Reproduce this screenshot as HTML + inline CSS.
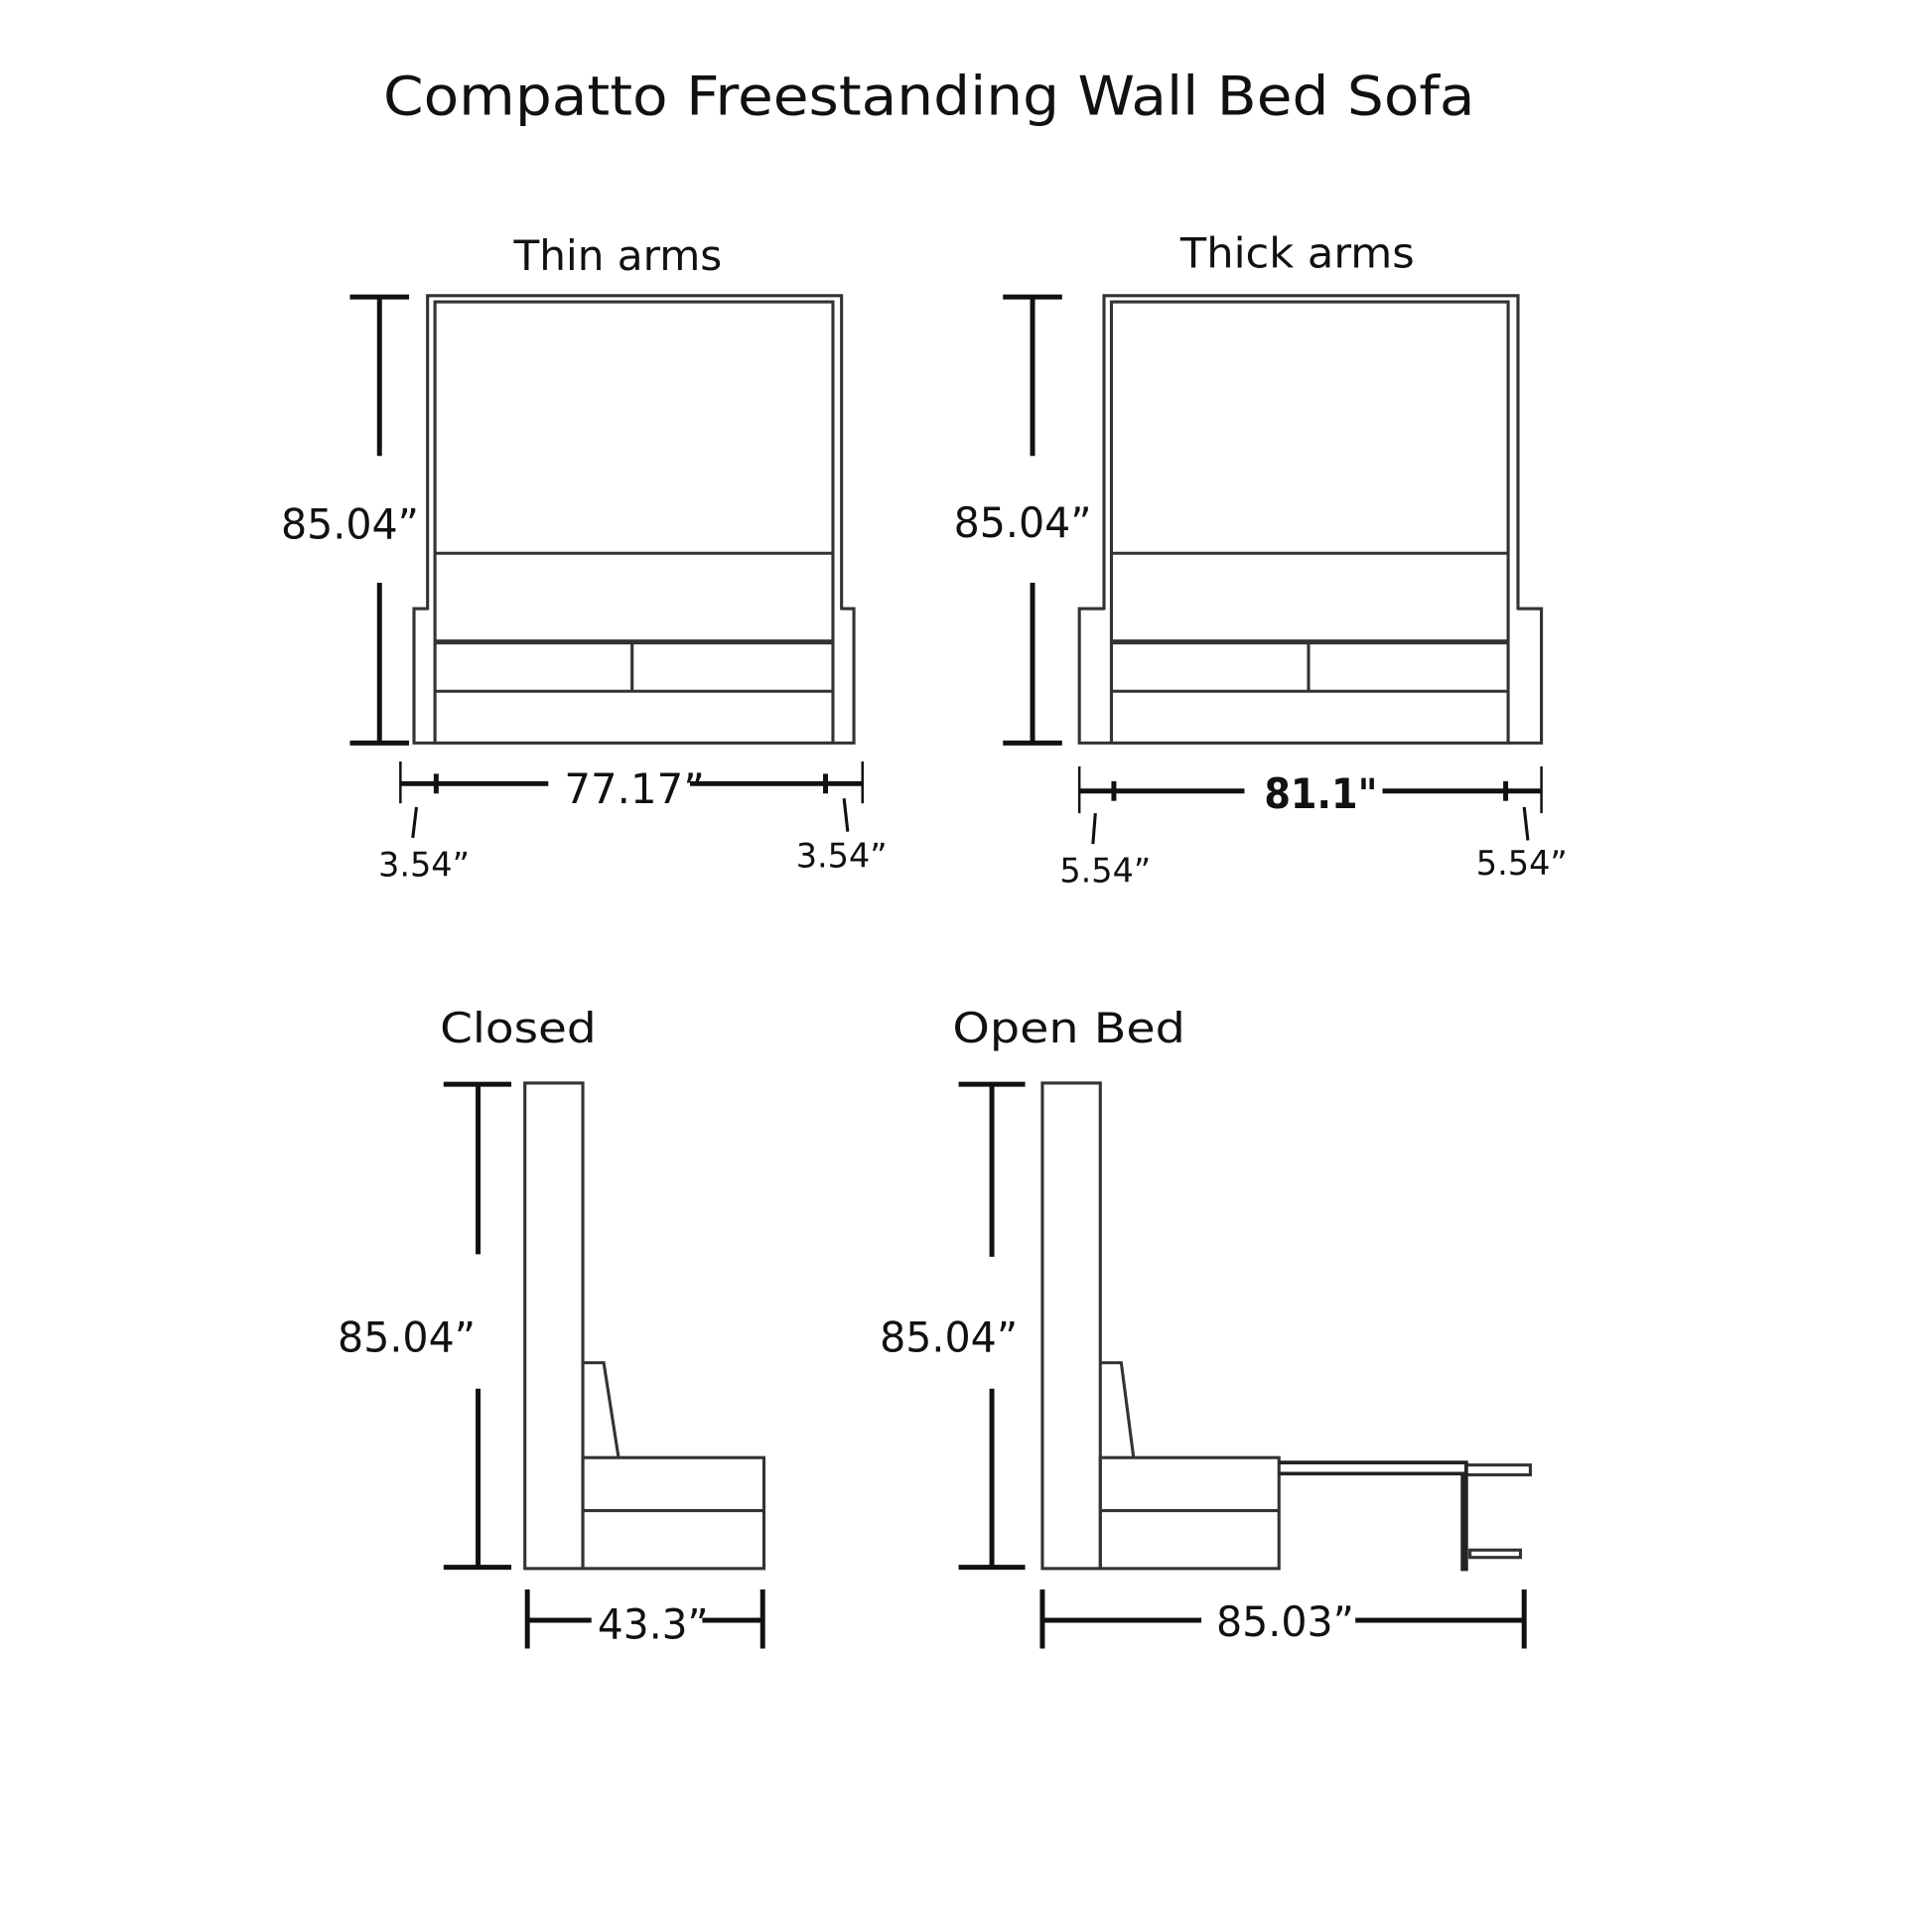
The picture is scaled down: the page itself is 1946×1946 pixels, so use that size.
<!DOCTYPE html>
<html><head><style>
html,body{margin:0;padding:0;background:#fff;}
svg{display:block;}
text{font-family:"DejaVu Sans","Liberation Sans",sans-serif;fill:#111;}
</style></head><body>
<svg width="1946" height="1946" viewBox="0 0 1568 1568" xmlns="http://www.w3.org/2000/svg">
<rect width="1568" height="1568" fill="#fff"/>
<text x="754" y="93" font-size="44" text-anchor="middle" textLength="886" lengthAdjust="spacingAndGlyphs">Compatto Freestanding Wall Bed Sofa</text>

<g fill="none" stroke="#333" stroke-width="2.5">
<path d="M347 495 V240 H683 V495"/>
<rect x="353" y="245" width="323" height="358"/>
<line x1="353" y1="449" x2="676" y2="449"/>
<line x1="353" y1="521" x2="676" y2="521" stroke-width="4"/>
<line x1="513" y1="521" x2="513" y2="561"/>
<line x1="353" y1="561" x2="676" y2="561"/>
<path d="M347 494 H336 V603 H353"/>
<path d="M683 494 H693 V603 H676"/>
<path d="M896 495 V240 H1232 V495"/>
<rect x="902" y="245" width="322" height="358"/>
<line x1="902" y1="449" x2="1224" y2="449"/>
<line x1="902" y1="521" x2="1224" y2="521" stroke-width="4"/>
<line x1="1062" y1="521" x2="1062" y2="561"/>
<line x1="902" y1="561" x2="1224" y2="561"/>
<path d="M896 494 H876 V603 H902"/>
<path d="M1232 494 H1251 V603 H1224"/>
<rect x="426" y="879" width="47" height="394"/>
<path d="M473 1106 H490 L502 1183"/>
<rect x="473" y="1183" width="147" height="90"/>
<line x1="473" y1="1226" x2="620" y2="1226"/>
<rect x="846" y="879" width="47" height="394"/>
<path d="M893 1106 H910 L920 1183"/>
<rect x="893" y="1183" width="145" height="90"/>
<line x1="893" y1="1226" x2="1038" y2="1226"/>
<rect x="1190" y="1189" width="52" height="8"/>
<rect x="1193" y="1258" width="41" height="6"/>
</g>
<g stroke="#222" fill="none">
<path d="M1038 1187 H1190 V1275" stroke-width="3"/>
<path d="M1038 1196 H1187 V1275" stroke-width="3"/>
</g>

<g stroke="#111" stroke-width="4" fill="none">
<line x1="284" y1="241" x2="332" y2="241"/><line x1="284" y1="603" x2="332" y2="603"/>
<line x1="308" y1="241" x2="308" y2="370"/><line x1="308" y1="473" x2="308" y2="603"/>
<line x1="325" y1="636" x2="445" y2="636"/><line x1="560" y1="636" x2="700" y2="636"/>
<line x1="325" y1="618" x2="325" y2="652" stroke-width="2"/><line x1="700" y1="618" x2="700" y2="652" stroke-width="2"/>
<line x1="354" y1="628" x2="354" y2="644"/><line x1="670" y1="628" x2="670" y2="644"/>
<line x1="338" y1="655" x2="335" y2="680" stroke-width="2.5"/><line x1="685" y1="648" x2="688" y2="675" stroke-width="2.5"/>
<line x1="814" y1="241" x2="862" y2="241"/><line x1="814" y1="603" x2="862" y2="603"/>
<line x1="838" y1="241" x2="838" y2="370"/><line x1="838" y1="473" x2="838" y2="603"/>
<line x1="876" y1="642" x2="1010" y2="642"/><line x1="1122" y1="642" x2="1251" y2="642"/>
<line x1="876" y1="622" x2="876" y2="660" stroke-width="2"/><line x1="1251" y1="622" x2="1251" y2="660" stroke-width="2"/>
<line x1="904" y1="634" x2="904" y2="650"/><line x1="1222" y1="634" x2="1222" y2="650"/>
<line x1="889" y1="660" x2="887" y2="685" stroke-width="2.5"/><line x1="1237" y1="655" x2="1240" y2="682" stroke-width="2.5"/>
<line x1="360" y1="880" x2="415" y2="880"/><line x1="360" y1="1272" x2="415" y2="1272"/>
<line x1="388" y1="880" x2="388" y2="1018"/><line x1="388" y1="1127" x2="388" y2="1272"/>
<line x1="428" y1="1290" x2="428" y2="1338"/><line x1="619" y1="1290" x2="619" y2="1338"/>
<line x1="428" y1="1315" x2="480" y2="1315"/><line x1="570" y1="1315" x2="619" y2="1315"/>
<line x1="778" y1="880" x2="832" y2="880"/><line x1="778" y1="1272" x2="832" y2="1272"/>
<line x1="805" y1="880" x2="805" y2="1020"/><line x1="805" y1="1127" x2="805" y2="1272"/>
<line x1="846" y1="1290" x2="846" y2="1338"/><line x1="1237" y1="1290" x2="1237" y2="1338"/>
<line x1="846" y1="1315" x2="975" y2="1315"/><line x1="1100" y1="1315" x2="1237" y2="1315"/>
</g>

<text x="417" y="219" font-size="34" textLength="169" lengthAdjust="spacingAndGlyphs">Thin arms</text>
<text x="958" y="217" font-size="34" textLength="190" lengthAdjust="spacingAndGlyphs">Thick arms</text>
<text x="228" y="437" font-size="34" textLength="112" lengthAdjust="spacingAndGlyphs">85.04”</text>
<text x="774" y="436" font-size="34" textLength="112" lengthAdjust="spacingAndGlyphs">85.04”</text>
<text x="458" y="652" font-size="34" textLength="114" lengthAdjust="spacingAndGlyphs">77.17”</text>
<text x="1026" y="656" font-size="34" font-weight="bold" textLength="92" lengthAdjust="spacingAndGlyphs">81.1"</text>
<text x="307" y="711" font-size="27">3.54”</text>
<text x="646" y="704" font-size="27">3.54”</text>
<text x="860" y="716" font-size="27">5.54”</text>
<text x="1198" y="710" font-size="27">5.54”</text>
<text x="357" y="846" font-size="34" textLength="127" lengthAdjust="spacingAndGlyphs">Closed</text>
<text x="773" y="846" font-size="34" textLength="189" lengthAdjust="spacingAndGlyphs">Open Bed</text>
<text x="274" y="1097" font-size="34" textLength="112" lengthAdjust="spacingAndGlyphs">85.04”</text>
<text x="714" y="1097" font-size="34" textLength="112" lengthAdjust="spacingAndGlyphs">85.04”</text>
<text x="485" y="1330" font-size="34" textLength="90" lengthAdjust="spacingAndGlyphs">43.3”</text>
<text x="987" y="1328" font-size="34" textLength="112" lengthAdjust="spacingAndGlyphs">85.03”</text>
</svg>
</body></html>
